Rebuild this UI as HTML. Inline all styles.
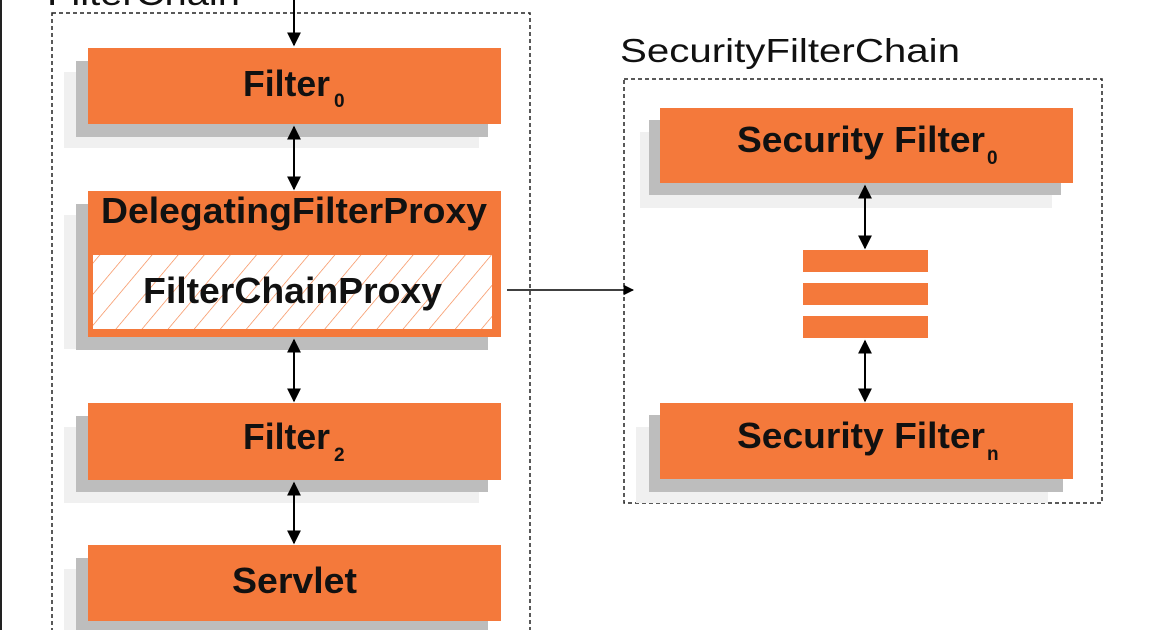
<!DOCTYPE html>
<html><head><style>
html,body{margin:0;padding:0;background:#fff;width:1176px;height:630px;overflow:hidden}
svg text{font-family:"Liberation Sans",Arial,sans-serif}
</style></head><body>
<svg width="1176" height="630" viewBox="0 0 1176 630" xmlns="http://www.w3.org/2000/svg">
<defs>
<marker id="a" viewBox="0 0 10 10" refX="9" refY="5" markerWidth="7" markerHeight="7" orient="auto-start-reverse"><path d="M0,0L10,5L0,10z" fill="#000"/></marker>
<pattern id="h" width="20" height="20" patternUnits="userSpaceOnUse" patternTransform="rotate(40)"><line x1="0" y1="0" x2="0" y2="20" stroke="#f4793b" stroke-width="1.2"/></pattern>
</defs>
<rect x="0" y="0" width="2" height="630" fill="#222"/>
<text x="47" y="5" font-size="34" fill="#111" textLength="193" lengthAdjust="spacingAndGlyphs">FilterChain</text>
<rect x="52" y="13" width="478" height="640" fill="none" stroke="#222" stroke-width="1.5" stroke-dasharray="4,3"/>
<text x="620" y="62" font-size="33" fill="#111" textLength="340" lengthAdjust="spacingAndGlyphs">SecurityFilterChain</text>
<rect x="624" y="79" width="478" height="424" fill="none" stroke="#222" stroke-width="1.5" stroke-dasharray="4,3"/>
<g fill="#f0f0f0">
<rect x="64" y="72" width="415" height="76"/><rect x="64" y="215" width="415" height="134"/><rect x="64" y="427" width="415" height="76"/><rect x="64" y="569" width="415" height="76"/>
<rect x="640" y="132" width="412" height="76"/><rect x="636" y="427" width="412" height="76"/>
</g>
<g fill="#bdbdbd">
<rect x="76" y="61" width="412" height="76"/><rect x="76" y="204" width="412" height="146"/><rect x="76" y="416" width="412" height="76"/><rect x="76" y="558" width="412" height="76"/>
<rect x="649" y="120" width="412" height="75"/><rect x="649" y="415" width="414" height="77"/>
</g>
<g fill="#f4793b">
<rect x="88" y="48" width="413" height="76"/>
<rect x="88" y="191" width="413" height="146"/>
<rect x="88" y="403" width="413" height="77"/>
<rect x="88" y="545" width="413" height="76"/>
<rect x="660" y="108" width="413" height="75"/>
<rect x="660" y="403" width="413" height="76"/>
<rect x="803" y="250" width="125" height="22"/>
<rect x="803" y="283" width="125" height="22"/>
<rect x="803" y="316" width="125" height="22"/>
</g>
<rect x="93" y="255" width="399" height="74" fill="#fff"/>
<rect x="93" y="255" width="399" height="74" fill="url(#h)"/>
<g font-weight="bold" font-size="36" fill="#111">
<text x="243" y="96" textLength="87" lengthAdjust="spacingAndGlyphs">Filter</text>
<text x="334" y="107" font-size="19">0</text>
<text x="101" y="223" textLength="386" lengthAdjust="spacingAndGlyphs">DelegatingFilterProxy</text>
<text x="143" y="303" textLength="299" lengthAdjust="spacingAndGlyphs">FilterChainProxy</text>
<text x="243" y="449" textLength="87" lengthAdjust="spacingAndGlyphs">Filter</text>
<text x="334" y="461" font-size="19">2</text>
<text x="232" y="593" textLength="125" lengthAdjust="spacingAndGlyphs">Servlet</text>
<text x="737" y="152" textLength="248" lengthAdjust="spacingAndGlyphs">Security Filter</text>
<text x="987" y="164" font-size="19">0</text>
<text x="737" y="448" textLength="248" lengthAdjust="spacingAndGlyphs">Security Filter</text>
<text x="987" y="460" font-size="19">n</text>
</g>
<g stroke="#000" stroke-width="2" fill="none">
<line x1="294" y1="0" x2="294" y2="45" marker-end="url(#a)"/>
<line x1="294" y1="127" x2="294" y2="189" marker-start="url(#a)" marker-end="url(#a)"/>
<line x1="294" y1="340" x2="294" y2="401" marker-start="url(#a)" marker-end="url(#a)"/>
<line x1="294" y1="483" x2="294" y2="543" marker-start="url(#a)" marker-end="url(#a)"/>
<line x1="865" y1="186" x2="865" y2="248" marker-start="url(#a)" marker-end="url(#a)"/>
<line x1="865" y1="341" x2="865" y2="401" marker-start="url(#a)" marker-end="url(#a)"/>
<line x1="507" y1="290" x2="633" y2="290" stroke-width="1.5" marker-end="url(#a)"/>
</g>
</svg>
</body></html>
